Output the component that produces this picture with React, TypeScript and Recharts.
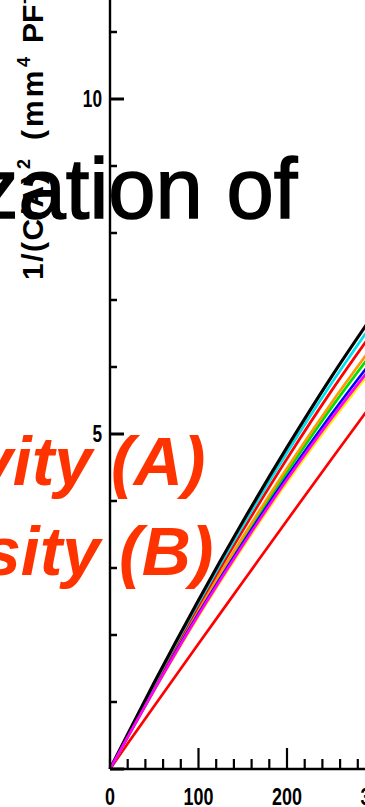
import { LineChart, Line, XAxis, YAxis } from "recharts";

// x positions of the readings
const xValues = [0, 20, 50, 100, 150, 200, 250, 300];

// series
const blackValues = [0, 0.52, 1.29, 2.52, 3.69, 4.8, 5.85, 6.83];
const cyanValues = [0, 0.51, 1.27, 2.48, 3.63, 4.72, 5.75, 6.71];
const redValues = [0, 0.5, 1.25, 2.44, 3.56, 4.63, 5.64, 6.58];
const orangeValues = [0, 0.49, 1.22, 2.38, 3.46, 4.49, 5.46, 6.37];
const greenValues = [0, 0.49, 1.21, 2.35, 3.42, 4.43, 5.39, 6.28];
const blueValues = [0, 0.48, 1.19, 2.32, 3.37, 4.36, 5.29, 6.16];
const magentaValues = [0, 0.48, 1.18, 2.3, 3.34, 4.32, 5.23, 6.08];
const yellowValues = [0, 0.47, 1.17, 2.28, 3.31, 4.28, 5.18, 6.03];
const lowRedValues = [0, 0.38, 0.94, 1.87, 2.79, 3.71, 4.62, 5.52];

const X_TICKS = [
	0, 20, 40, 60, 80, 100, 120, 140, 160, 180, 200, 220, 240, 260, 280, 300,
	320, 340, 360, 380, 400,
];
const X_LABELS = [0, 100, 200, 300, 400];
const Y_TICKS = [0, 1, 2, 3, 4, 5, 6, 7, 8, 9, 10, 11, 12];
const Y_LABELS = [5, 10];

const SERIES = [
	{ key: "lowRed", color: "#ff0000", values: lowRedValues },
	{ key: "green", color: "#00e000", values: greenValues },
	{ key: "orange", color: "#ff9900", values: orangeValues },
	{ key: "yellow", color: "#ffee00", values: yellowValues },
	{ key: "blue", color: "#0000ff", values: blueValues },
	{ key: "red", color: "#ff0000", values: redValues },
	{ key: "cyan", color: "#00e0f0", values: cyanValues },
	{ key: "black", color: "#000000", values: blackValues },
	{ key: "magenta", color: "#ff00ff", values: magentaValues },
];

const chartData = xValues.map((x, i) => {
	const row: Record<string, number> = { x };
	SERIES.forEach((s) => {
		row[s.key] = s.values[i];
	});
	return row;
});

const FONT = "'Liberation Sans', Arial, Helvetica, sans-serif";
const ORANGE = "#ff3300";

function YTick(props: any) {
	const { x, y, payload } = props;
	const v = payload.value;
	const major = v % 5 === 0;
	return (
		<g>
			<line
				x1={x}
				x2={x + (major ? 14 : 7)}
				y1={y}
				y2={y}
				stroke="#000"
				strokeWidth={major ? 3 : 2.5}
			/>
			{Y_LABELS.includes(v) && (
				<text
					transform={`translate(${x - 8},${y + 8}) scale(0.75,1)`}
					textAnchor="end"
					fontFamily={FONT}
					fontWeight="bold"
					fontSize={23}
					fill="#000"
				>
					{v}
				</text>
			)}
		</g>
	);
}

function XTick(props: any) {
	const { x, y, payload } = props;
	const v = payload.value;
	const major = v % 100 === 0 && v !== 0;
	return (
		<g>
			<line
				x1={x}
				x2={x}
				y1={y}
				y2={y - (major ? 21 : 10)}
				stroke="#000"
				strokeWidth={2.2}
			/>
			{X_LABELS.includes(v) && (
				<text
					transform={`translate(${x},${y + 36}) scale(0.78,1)`}
					textAnchor="middle"
					fontFamily={FONT}
					fontWeight="bold"
					fontSize={23}
					fill="#000"
				>
					{v}
				</text>
			)}
		</g>
	);
}

function YLabel() {
	return (
		<text
			transform="translate(43,380) rotate(-90)"
			fontFamily={FONT}
			fontWeight="bold"
			fontSize={30}
			fill="#000"
		>
			<tspan x={0} y={0} letterSpacing={1.5}>
				1/(C/A)
			</tspan>
			<tspan x={111} y={-13} fontSize={18}>
				2
			</tspan>
			<tspan x={140} y={0} letterSpacing={3}>
				(mm
			</tspan>
			<tspan x={213} y={-13} fontSize={18}>
				4
			</tspan>
			<tspan x={237} y={0}>
				PF
			</tspan>
			<tspan x={276} y={-13} fontSize={18}>
				-2
			</tspan>
			<tspan x={292} y={0}>
				)
			</tspan>
		</text>
	);
}

export default function App() {
	return (
		<div
			style={{
				position: "absolute",
				left: 0,
				top: 0,
				width: 365,
				height: 807,
				overflow: "hidden",
				background: "#fff",
			}}
		>
			<div style={{ position: "absolute", left: 0, top: -100 }}>
				<LineChart
					width={600}
					height={920}
					data={chartData}
					margin={{ top: 65, right: 136, bottom: 21, left: 0 }}
				>
					<XAxis
						dataKey="x"
						type="number"
						domain={[0, 400]}
						ticks={X_TICKS}
						interval={0}
						height={30}
						tickSize={0}
						tickMargin={0}
						tickLine={false}
						tick={<XTick />}
						axisLine={{ stroke: "#000", strokeWidth: 2.6 }}
					/>
					<YAxis
						type="number"
						domain={[0, 12]}
						ticks={Y_TICKS}
						interval={0}
						width={110}
						tickSize={0}
						tickMargin={0}
						tickLine={false}
						tick={<YTick />}
						axisLine={{ stroke: "#000", strokeWidth: 2.4 }}
						label={<YLabel />}
					/>
					{SERIES.map((s) => (
						<Line
							key={s.key}
							dataKey={s.key}
							type="monotone"
							stroke={s.color}
							strokeWidth={s.key === "black" ? 3.2 : 2.7}
							dot={false}
							isAnimationActive={false}
						/>
					))}
				</LineChart>
			</div>
			<svg
				width={365}
				height={807}
				style={{ position: "absolute", left: 0, top: 0, pointerEvents: "none" }}
			>
				<text
					x={-24}
					y={218}
					fontFamily={FONT}
					fontSize={85}
					fill="#000"
					stroke="#000"
					strokeWidth={1.5}
				>
					zation of
				</text>
				<text
					x={-25}
					y={485}
					fontFamily={FONT}
					fontSize={68}
					fontWeight="bold"
					fontStyle="italic"
					fill={ORANGE}
				>
					vity (A)
				</text>
				<text
					x={-17}
					y={575}
					fontFamily={FONT}
					fontSize={68}
					fontWeight="bold"
					fontStyle="italic"
					fill={ORANGE}
				>
					sity (B)
				</text>
			</svg>
		</div>
	);
}
